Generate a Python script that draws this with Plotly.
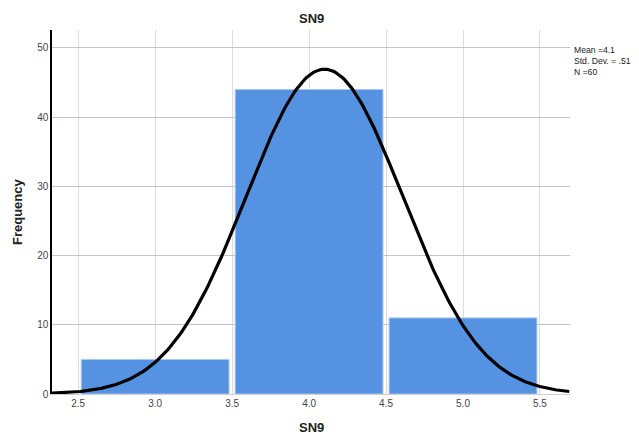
import numpy as np
import plotly.graph_objects as go

bin_centers = [3.0, 4.0, 5.0]
frequencies = [5, 44, 11]
mean_val = 4.1
std_val = 0.51
n_val = 60
bin_width = 1.0
x_ticks = [2.5, 3.0, 3.5, 4.0, 4.5, 5.0, 5.5]
y_ticks = [0, 10, 20, 30, 40, 50]

x_curve = np.linspace(2.33, 5.69, 300)
y_curve = n_val * bin_width / (std_val * np.sqrt(2 * np.pi)) * np.exp(-0.5 * ((x_curve - mean_val) / std_val) ** 2)

fig = go.Figure()
fig.add_trace(go.Bar(
    x=bin_centers, y=frequencies, width=0.96,
    marker=dict(color="#5592E2", line=dict(color="#a9c6ee", width=1)),
    hoverinfo="x+y",
))
fig.add_trace(go.Scatter(
    x=x_curve, y=y_curve, mode="lines",
    line=dict(color="black", width=3.2), hoverinfo="skip",
))

# page body has an 8px default margin, so the figure is sized/offset to compensate
title_font = dict(size=13, color="#222", family="Liberation Sans, Arial")
fig.update_layout(
    width=631, height=428,
    margin=dict(l=44, r=69, t=22, b=42, autoexpand=False),
    plot_bgcolor="white", paper_bgcolor="white",
    showlegend=False,
    font=dict(family="Liberation Sans, Arial", color="#333"),
    xaxis=dict(
        range=[2.33, 5.695], tickvals=x_ticks,
        ticktext=[f"{v:.1f}" for v in x_ticks],
        showgrid=True, gridcolor="#dcdcdc", gridwidth=1,
        showline=True, linecolor="#cfcfcf", linewidth=1,
        zeroline=False, ticks="", tickfont=dict(size=10, color="#444"),
        automargin=False,
    ),
    yaxis=dict(
        range=[0, 52.6], tickvals=y_ticks,
        showgrid=True, gridcolor="#c4c4c4", gridwidth=1,
        showline=True, linecolor="black", linewidth=1.5,
        zeroline=False, ticks="", tickfont=dict(size=10, color="#444"),
        automargin=False,
    ),
    annotations=[
        dict(text="Mean =4.1<br>Std. Dev. = .51<br>N =60",
             xref="paper", yref="paper", x=1.004, y=0.965, xanchor="left", yanchor="top",
             showarrow=False, align="left", font=dict(size=8.6, color="#222")),
        dict(text="<b>SN9</b>", xref="paper", yref="paper", x=0.5, y=1.0, yshift=12,
             xanchor="center", yanchor="middle", showarrow=False, font=title_font),
        dict(text="<b>SN9</b>", xref="paper", yref="paper", x=0.5, y=0.0, yshift=-33,
             xanchor="center", yanchor="middle", showarrow=False, font=title_font),
        dict(text="<b>Frequency</b>", xref="paper", yref="paper", x=0.0, xshift=-35, y=0.5,
             xanchor="center", yanchor="middle", textangle=-90, showarrow=False, font=title_font),
    ],
)

fig.write_html("out.html")
